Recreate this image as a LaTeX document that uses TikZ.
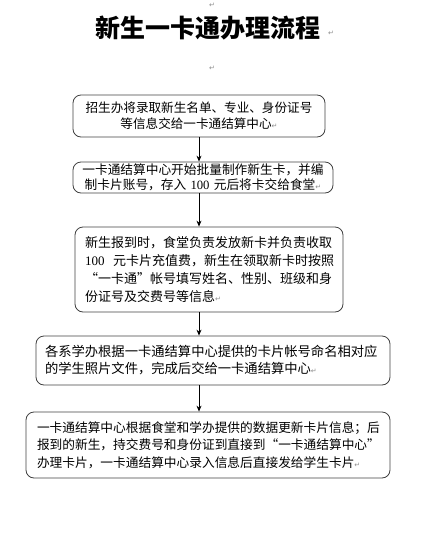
\documentclass[tikz,border=0pt]{standalone}
\usepackage{fontspec}
\setmainfont{Noto Sans CJK SC}
\newfontfamily\lat{Liberation Serif}
\newfontfamily\symf{DejaVu Sans}
\usetikzlibrary{arrows.meta}
\newcommand{\pmark}{{\symf\fontsize{7}{7}\selectfont\color{black!45}↵}}
\tikzset{
  box/.style={draw=black!75, line width=0.8pt, rounded corners=8pt, inner ysep=0pt},
  arr/.style={line width=0.8pt, -{Stealth[length=6pt,width=5pt]}}
}
\begin{document}
\begin{tikzpicture}[x=1pt,y=-1pt]
\useasboundingbox (0,0) rectangle (423,533);
% title
\node[font=\fontsize{25}{25}\selectfont\bfseries, inner sep=0pt] (title) at (208,28) {新生一卡通办理流程};
\node[inner sep=0pt] (pm0) at (212,5) {\pmark};
\node[inner sep=0pt] (pm1) at (331,33) {\pmark};
\node[inner sep=0pt] (pm2) at (212,68) {\pmark};
% boxes
\node[box, minimum width=252pt, minimum height=42pt, inner xsep=10pt, text width=232pt, align=center,
  font=\fontsize{12.6}{16}\selectfont] (b1) at (199,116)
  {招生办将录取新生名单、专业、身份证号\\等信息交给一卡通结算中心\pmark};
\node[box, minimum width=260pt, minimum height=31pt, inner xsep=8pt, text width=244pt, align=center,
  font=\fontsize{12.7}{15}\selectfont] (b2) at (203,177.5)
  {一卡通结算中心开始批量制作新生卡，并编\\制卡片账号，存入 {\lat 100} 元后将卡交给食堂\pmark};
\node[box, minimum width=268pt, minimum height=85pt, inner xsep=8pt, text width=252pt, align=left,
  font=\fontsize{13}{18}\selectfont] (b3) at (209,269.5)
  {\hspace*{2pt}新生报到时，食堂负责发放新卡并负责收取\\\hspace*{2pt}\mbox{{\lat 100}~~元卡片充值费，新生在领取新卡时按照}\\\hspace*{2pt}“一卡通”帐号填写姓名、性别、班级和身\\\hspace*{2pt}份证号及交费号等信息\pmark};
\node[box, minimum width=354pt, minimum height=49pt, inner xsep=9pt, text width=336pt, align=left,
  font=\fontsize{13.3}{17}\selectfont] (b4) at (213,360.5)
  {各系学办根据一卡通结算中心提供的卡片帐号命名相对应\\的学生照片文件，完成后交给一卡通结算中心\pmark};
\node[box, minimum width=364pt, minimum height=66pt, inner xsep=11pt, text width=342pt, align=left,
  font=\fontsize{12.7}{17.5}\selectfont] (b5) at (208,445)
  {一卡通结算中心根据食堂和学办提供的数据更新卡片信息；后\\报到的新生，持交费号和身份证到直接到“一卡通结算中心”\\办理卡片，一卡通结算中心录入信息后直接发给学生卡片\pmark};
% connectors
\coordinate (ax) at (199,0);
\draw[arr] (ax |- b1.south) -- (ax |- b2.north);
\draw[arr] (ax |- b2.south) -- (ax |- b3.north);
\draw[arr] (ax |- b3.south) -- (ax |- b4.north);
\draw[arr] (ax |- b4.south) -- (ax |- b5.north);
\end{tikzpicture}
\end{document}
